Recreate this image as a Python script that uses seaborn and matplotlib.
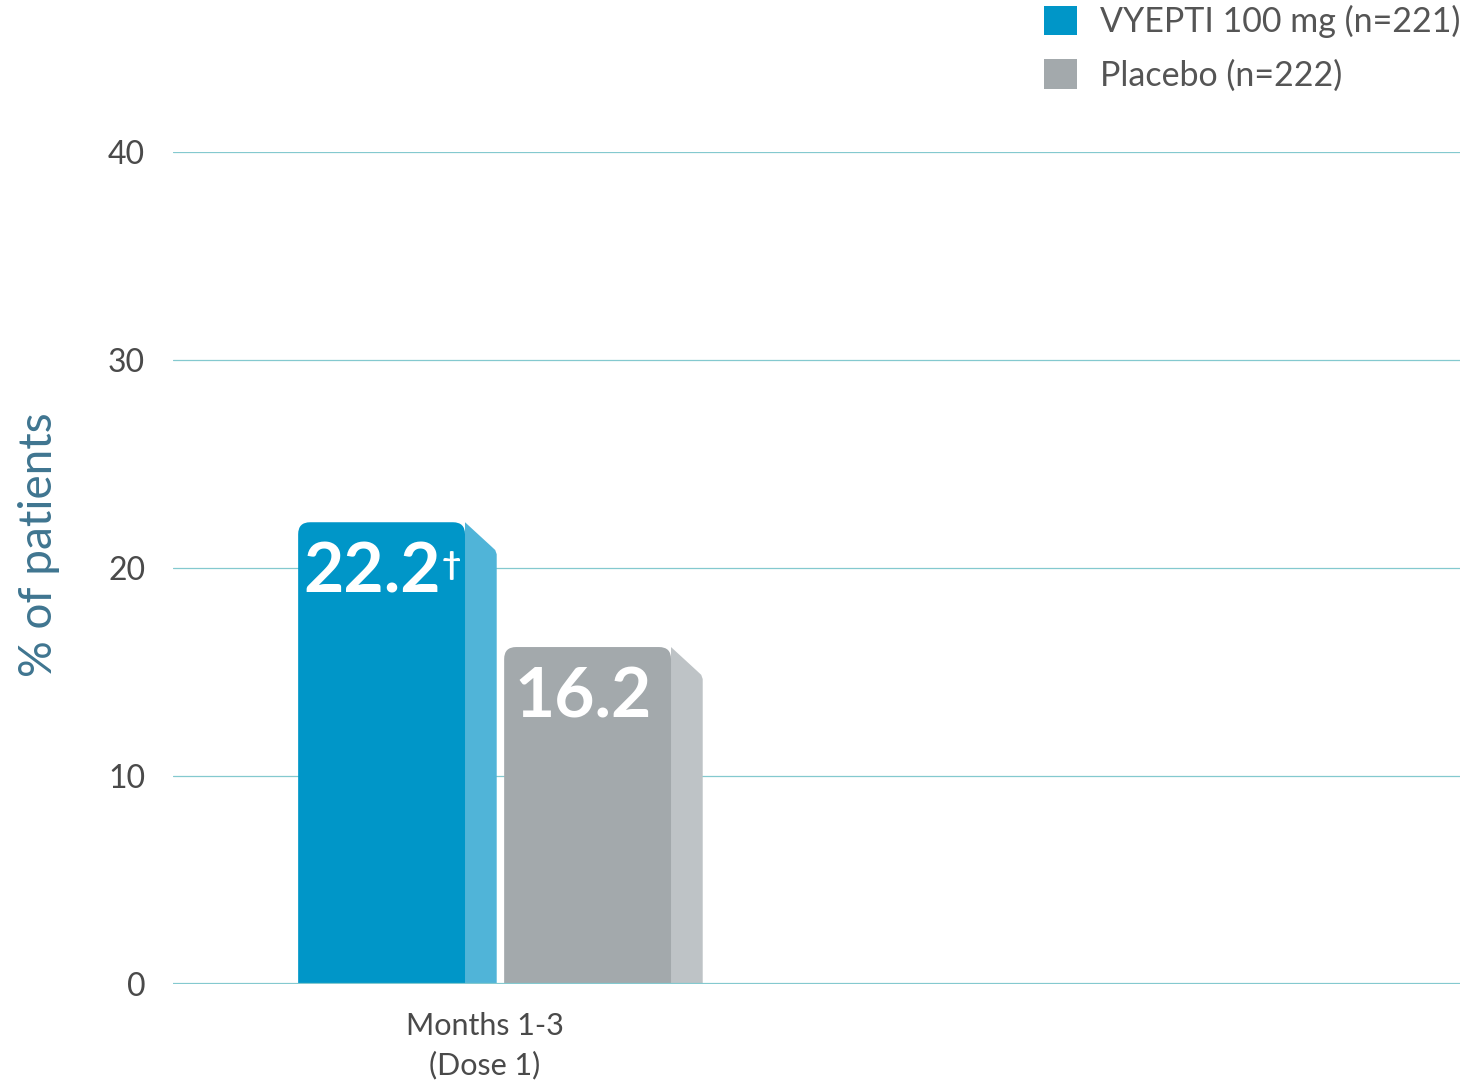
import numpy as np
import pandas as pd
import matplotlib.pyplot as plt
import seaborn as sns
from matplotlib.patches import FancyBboxPatch, Polygon, Patch

# data
categories = ["Months 1-3\n(Dose 1)"]
treatments = ["VYEPTI 100 mg (n=221)", "Placebo (n=222)"]
values = [22.2, 16.2]
value_labels = ["22.2", "16.2"]
value_marks = ["\u2020", ""]
yticks = [0, 10, 20, 30, 40]

front_colors = ["#0096C8", "#A3A9AC"]
side_colors = ["#50B4D8", "#BEC3C6"]
grid_color = "#84C9CF"
text_color = "#4A4A4A"

df = pd.DataFrame({
    "period": categories * len(treatments),
    "group": treatments,
    "pct": values,
})

sns.set_style("white")
plt.rcParams["font.family"] = ["Lato", "DejaVu Sans"]

fig = plt.figure(figsize=(14.6, 10.91), dpi=100)
ax = fig.add_axes([173 / 1460, 1 - 984 / 1091, 1287 / 1460, 832 / 1091])

sns.barplot(data=df, x="period", y="pct", hue="group", palette=front_colors,
            saturation=1, width=0.8, gap=0.19, ax=ax, legend=False, zorder=3)

ax.set_ylim(0, 40)
ax.set_xlim(-0.605, 1.894)

# px -> data scales for the rounded corners
x_per_px = (1.894 + 0.605) / 1287
y_per_px = 40 / 832

bars = list(ax.patches)
for bar, side_c, lab, mark in zip(bars, side_colors, value_labels, value_marks):
    x0, w, h = bar.get_x(), bar.get_width(), bar.get_height()
    fc = bar.get_facecolor()
    bar.set_visible(False)
    # side face with slanted top, small rounding at the far corner
    dx = w * 0.19
    dy = 1.25
    cx = 6 * x_per_px
    cy = 6 * y_per_px
    ax.add_patch(Polygon([(x0 + w, 0), (x0 + w, h), (x0 + w + dx - cx, h - dy + cy * 0.4),
                          (x0 + w + dx - cx * 0.25, h - dy - cy * 0.3),
                          (x0 + w + dx, h - dy - cy), (x0 + w + dx, 0)],
                         closed=True, facecolor=side_c, edgecolor="none", zorder=2))
    # front face with rounded top corners
    r = 12 * x_per_px
    ax.add_patch(FancyBboxPatch((x0, -2), w, h + 2,
                                boxstyle=f"round,pad=0,rounding_size={r}",
                                mutation_aspect=y_per_px / x_per_px,
                                facecolor=fc, edgecolor="none", zorder=3))
    shift = -7 if mark else -3
    txt = ax.annotate(lab, xy=(x0 + w / 2, h), xytext=(shift, -14),
                      textcoords="offset points", ha="center", va="top",
                      color="white", fontsize=50, fontweight="bold", zorder=5)
    if mark:
        ax.annotate(mark, xy=(1, 0.86), xycoords=txt, xytext=(1, 0),
                    textcoords="offset points", ha="left", va="top",
                    color="white", fontsize=24, fontweight="bold", zorder=5)

# grid
ax.set_yticks(yticks)
for t in yticks[1:]:
    ax.axhline(t, color=grid_color, lw=0.9, zorder=1)
ax.axhline(0, color=grid_color, lw=1.6, zorder=4)

sns.despine(ax=ax, left=True, bottom=True)
ax.tick_params(axis="both", length=0, colors=text_color)
ax.tick_params(axis="y", labelsize=23, pad=20)
ax.tick_params(axis="x", labelsize=22, pad=20)
for lbl in ax.get_xticklabels():
    lbl.set_linespacing(1.45)
ax.set_xlabel("")
ax.set_ylabel("% of patients", fontsize=33, color="#3F7590")
ax.yaxis.set_label_coords(-0.088, 0.528)

handles = [Patch(facecolor=c, edgecolor="none") for c in front_colors]
fig.legend(handles, treatments, loc="upper right", bbox_to_anchor=(1.004, 1.0),
           frameon=False, fontsize=24.5, labelcolor="#555555",
           handlelength=0.95, handleheight=0.95, handletextpad=0.7,
           labelspacing=0.62, borderaxespad=0, borderpad=0.15)

fig.savefig("out.png", dpi=100)
